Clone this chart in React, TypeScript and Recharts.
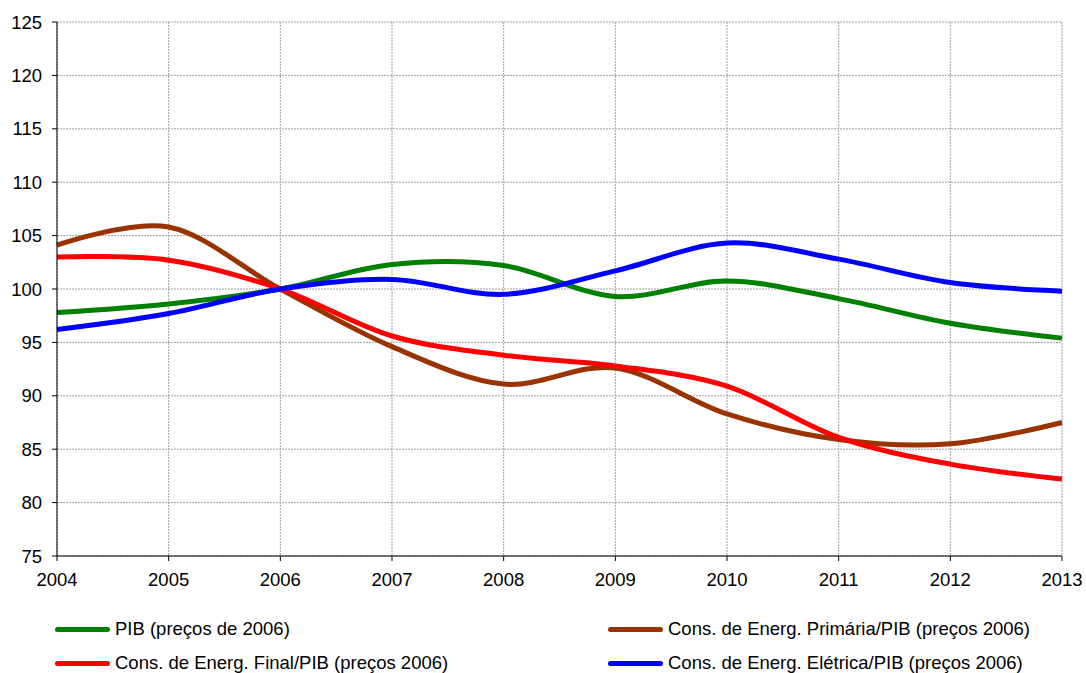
import React from "react";
import { LineChart, Line, XAxis, YAxis, CartesianGrid } from "recharts";

const years = [2004, 2005, 2006, 2007, 2008, 2009, 2010, 2011, 2012, 2013];
const pib = [97.8, 98.6, 100, 102.3, 102.2, 99.3, 100.75, 99.1, 96.8, 95.4];
const primaria = [104.1, 105.8, 100, 94.6, 91.1, 92.6, 88.3, 85.9, 85.5, 87.5];
const finalE = [103.0, 102.7, 100, 95.6, 93.8, 92.8, 90.9, 86.1, 83.6, 82.2];
const eletrica = [96.2, 97.7, 100, 100.9, 99.5, 101.7, 104.3, 102.8, 100.6, 99.8];
const yTicks = [75, 80, 85, 90, 95, 100, 105, 110, 115, 120, 125];

const series = [
  { key: "pib", name: "PIB (preços de 2006)", color: "#008000", values: pib },
  { key: "primaria", name: "Cons. de Energ. Primária/PIB (preços 2006)", color: "#993300", values: primaria },
  { key: "final", name: "Cons. de Energ. Final/PIB (preços 2006)", color: "#ff0000", values: finalE },
  { key: "eletrica", name: "Cons. de Energ. Elétrica/PIB (preços 2006)", color: "#0000ff", values: eletrica },
];

const data = years.map((y, i) => {
  const row: any = { year: y };
  series.forEach((s) => (row[s.key] = s.values[i]));
  return row;
});

// Catmull-Rom style (cardinal, tension 0) curve, similar to Excel smoothing
function catmullRom(context: any) {
  const k = 1 / 6;
  const st: any = { _x0: NaN, _x1: NaN, _x2: NaN, _y0: NaN, _y1: NaN, _y2: NaN, _point: 0, _line: NaN };
  const seg = (x: number, y: number) => {
    context.bezierCurveTo(
      st._x1 + k * (st._x2 - st._x0),
      st._y1 + k * (st._y2 - st._y0),
      st._x2 + k * (st._x1 - x),
      st._y2 + k * (st._y1 - y),
      st._x2,
      st._y2
    );
  };
  return {
    areaStart() { st._line = 0; },
    areaEnd() { st._line = NaN; },
    lineStart() {
      st._x0 = st._x1 = st._x2 = st._y0 = st._y1 = st._y2 = NaN;
      st._point = 0;
    },
    lineEnd() {
      switch (st._point) {
        case 2: context.lineTo(st._x2, st._y2); break;
        case 3: seg(st._x1, st._y1); break;
      }
      if (st._line || (st._line !== 0 && st._point === 1)) context.closePath();
      st._line = 1 - st._line;
    },
    point(x: number, y: number) {
      x = +x; y = +y;
      switch (st._point) {
        case 0:
          st._point = 1;
          st._line ? context.lineTo(x, y) : context.moveTo(x, y);
          break;
        case 1:
          st._point = 2;
          st._x1 = x; st._y1 = y;
          break;
        case 2:
          st._point = 3;
          seg(x, y);
          break;
        default:
          seg(x, y);
          break;
      }
      st._x0 = st._x1; st._x1 = st._x2; st._x2 = x;
      st._y0 = st._y1; st._y1 = st._y2; st._y2 = y;
    },
  };
}

const font = "Arial, 'Liberation Sans', sans-serif";
const fs = 18.5;

export default function App() {
  const legendPos = [
    { left: 55, top: 629 },
    { left: 608, top: 629 },
    { left: 55, top: 663 },
    { left: 608, top: 663 },
  ];
  return (
    <div style={{ position: "absolute", left: 0, top: 0, width: 1086, height: 673, background: "#fff", fontFamily: font }}>
      <LineChart width={1086} height={673} data={data} margin={{ top: 22, right: 24, left: 0, bottom: 0 }}>
        <CartesianGrid stroke="#a0a0a0" strokeDasharray="2 1" />
        <XAxis
          dataKey="year"
          type="number"
          domain={[2004, 2013]}
          ticks={years}
          height={117}
          tickSize={5}
          tickMargin={12}
          stroke="#000"
          tick={{ fill: "#000", fontSize: fs, fontFamily: font }}
          axisLine={{ stroke: "#000", strokeWidth: 1 }}
          interval={0}
        />
        <YAxis
          type="number"
          domain={[75, 125]}
          ticks={yTicks}
          width={57}
          tickSize={5}
          tickMargin={10}
          stroke="#000"
          tick={{ fill: "#000", fontSize: fs, fontFamily: font }}
          interval={0}
        />
        {series.map((s) => (
          <Line
            key={s.key}
            dataKey={s.key}
            name={s.name}
            type={catmullRom as any}
            stroke={s.color}
            strokeWidth={5}
            dot={false}
            activeDot={false}
            isAnimationActive={false}
          />
        ))}
      </LineChart>
      {series.map((s, i) => (
        <div
          key={s.key}
          style={{
            position: "absolute",
            left: legendPos[i].left,
            top: legendPos[i].top - 12,
            height: 24,
            display: "flex",
            alignItems: "center",
            fontSize: fs,
            color: "#000",
            whiteSpace: "nowrap",
          }}
        >
          <span style={{ display: "inline-block", width: 55, height: 5, borderRadius: 2.5, background: s.color, marginRight: 5 }} />
          <span>{s.name}</span>
        </div>
      ))}
    </div>
  );
}
